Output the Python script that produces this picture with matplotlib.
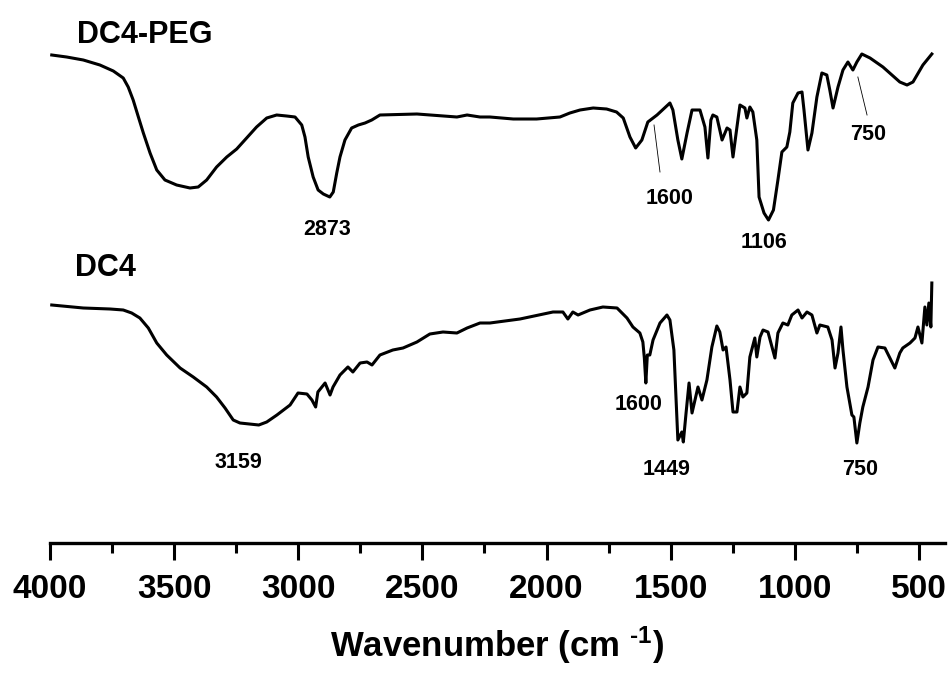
import matplotlib
matplotlib.use("Agg")
import matplotlib.pyplot as plt
from matplotlib.ticker import MultipleLocator

plt.rcParams['font.family'] = ['Liberation Sans', 'DejaVu Sans']
plt.rcParams['font.weight'] = 'bold'
plt.rcParams['mathtext.fontset'] = 'custom'
plt.rcParams['mathtext.rm'] = 'Liberation Sans:bold'
plt.rcParams['mathtext.bf'] = 'Liberation Sans:bold'
plt.rcParams['mathtext.default'] = 'bf'

# ---- data (wavenumber in cm^-1, transmittance in arbitrary units) ----
peg_wn = [3993, 3933, 3866, 3799, 3745, 3705, 3685, 3665, 3644, 3624, 3597, 3570,
          3537, 3490, 3436, 3403, 3369, 3329, 3288, 3248, 3208, 3168, 3127, 3087,
          3047, 3013, 2986, 2973, 2960, 2940, 2920, 2899, 2873, 2859, 2845, 2832,
          2812, 2785, 2758, 2731, 2704, 2671, 2522, 2361, 2320, 2268, 2228, 2134,
          2040, 1946, 1906, 1865, 1812, 1758, 1718, 1691, 1664, 1641, 1616, 1592,
          1555, 1503, 1491, 1471, 1455, 1434, 1414, 1382, 1362, 1350, 1338, 1330,
          1314, 1293, 1273, 1261, 1249, 1233, 1221, 1201, 1193, 1181, 1169, 1153,
          1144, 1124, 1106, 1086, 1068, 1052, 1032, 1020, 1008, 987, 971, 963, 947,
          931, 911, 891, 871, 859, 846, 826, 806, 786, 766, 750, 730, 697, 645, 577,
          548, 524, 484, 448]
peg_t = [488, 486, 483, 478, 472, 465, 456, 443, 426, 410, 390, 373,
         363, 358, 355, 356, 363, 376, 386, 394, 405, 416, 425, 428,
         427, 426, 418, 406, 386, 366, 353, 349, 346, 351, 370, 386,
         403, 415, 418, 420, 423, 428, 429, 426, 428, 426, 426, 424,
         424, 426, 430, 433, 435, 434, 431, 425, 406, 395, 403, 421,
         428, 440, 433, 403, 384, 410, 433, 433, 416, 385, 423, 428,
         426, 403, 415, 413, 386, 416, 438, 435, 425, 436, 431, 403,
         346, 330, 323, 333, 363, 391, 396, 411, 440, 450, 451, 433, 393,
         410, 446, 470, 468, 453, 435, 456, 473, 481, 473, 481, 489, 485, 476,
         461, 458, 461, 478, 489]

dc4_wn = [3993, 3866, 3758, 3705, 3671, 3638, 3604, 3570, 3530, 3476, 3423, 3369,
          3329, 3295, 3262, 3235, 3195, 3159, 3127, 3086, 3033, 3001, 2965, 2945,
          2930, 2921, 2892, 2872, 2860, 2832, 2800, 2780, 2751, 2723, 2703, 2671,
          2619, 2578, 2522, 2470, 2417, 2361, 2320, 2268, 2228, 2107, 1974, 1934,
          1914, 1894, 1873, 1825, 1773, 1716, 1676, 1652, 1624, 1612, 1606, 1600,
          1594, 1584, 1571, 1543, 1515, 1503, 1487, 1471, 1455, 1449, 1438, 1426,
          1414, 1390, 1374, 1354, 1334, 1314, 1302, 1289, 1277, 1261, 1249, 1233,
          1221, 1209, 1193, 1181, 1161, 1153, 1140, 1128, 1108, 1092, 1080, 1068,
          1048, 1028, 1012, 987, 971, 951, 931, 911, 899, 867, 850, 838, 826, 814,
          806, 790, 770, 762, 750, 738, 726, 705, 685, 665, 637, 597, 577, 565,
          536, 516, 504, 488, 476, 468, 460, 452, 448]
dc4_t = [238, 235, 234, 233, 230, 225, 215, 200, 188, 175, 166, 156,
         146, 135, 123, 120, 119, 118, 121, 128, 138, 150, 149, 143,
         136, 151, 160, 148, 156, 168, 176, 171, 180, 181, 178, 188,
         193, 195, 201, 209, 211, 210, 215, 220, 220, 224, 231, 231,
         224, 231, 228, 233, 236, 235, 225, 216, 210, 201, 185, 160,
         188, 188, 203, 220, 228, 223, 193, 103, 111, 101, 130, 160,
         130, 156, 143, 163, 196, 217, 211, 193, 196, 163, 131, 131,
         156, 146, 150, 186, 205, 186, 206, 213, 211, 196, 185, 210,
         220, 218, 228, 233, 225, 231, 228, 210, 218, 216, 203, 175, 190, 216,
         193, 156, 128, 126, 100, 120, 136, 156, 183, 196, 195, 175, 190, 195,
         200, 205, 216, 200, 236, 218, 240, 216, 260]

series_names = ["DC4-PEG", "DC4"]
peg_peak_labels = ["2873", "1600", "1106", "750"]
dc4_peak_labels = ["3159", "1600", "1449", "750"]
xticks = [4000, 3500, 3000, 2500, 2000, 1500, 1000, 500]

# ---- figure ----
fig = plt.figure(figsize=(9.51, 6.77), dpi=100)
ax = fig.add_axes([50 / 951, 134 / 677, 895 / 951, 543 / 677])
ax.plot(peg_wn, peg_t, color='black', lw=2.2, solid_joinstyle='round')
ax.plot(dc4_wn, dc4_t, color='black', lw=2.2, solid_joinstyle='round')

ax.set_xlim(4000, 395)
ax.set_ylim(0, 543)
for s in ['top', 'left', 'right']:
    ax.spines[s].set_visible(False)
ax.spines['bottom'].set_linewidth(2.4)
ax.set_yticks([])
ax.set_xticks(xticks)
ax.set_xticklabels([str(t) for t in xticks])
ax.xaxis.set_minor_locator(MultipleLocator(250))
ax.tick_params(axis='x', which='major', length=12.5, width=2.2, direction='out',
               labelsize=24, pad=10)
ax.tick_params(axis='x', which='minor', length=7.2, width=2.2, direction='out')
for lbl in ax.get_xticklabels():
    lbl.set_fontweight('bold')
ax.set_xlabel(r'Wavenumber (cm $^{\text{-1}}$)', fontsize=25, fontweight='bold', labelpad=14)

# series names
ax.text(3891, 500, series_names[0], fontsize=22, fontweight='bold', ha='left', va='baseline')
ax.text(3899, 267, series_names[1], fontsize=22, fontweight='bold', ha='left', va='baseline')

# peak labels
fs = 15.5
peg_pos = [(2884, 308), (1503, 339), (1124, 295), (706, 403)]
dc4_pos = [(3243, 75), (1628, 133), (1515, 68), (738, 68)]
for lbl, (x, y) in zip(peg_peak_labels, peg_pos):
    ax.text(x, y, lbl, fontsize=fs, fontweight='bold', ha='center', va='baseline')
for lbl, (x, y) in zip(dc4_peak_labels, dc4_pos):
    ax.text(x, y, lbl, fontsize=fs, fontweight='bold', ha='center', va='baseline')

# leader lines
ax.plot([1567, 1543], [418, 371], color='black', lw=0.6)
ax.plot([746, 709], [466, 428], color='black', lw=0.6)

fig.savefig('out.png', dpi=100)
